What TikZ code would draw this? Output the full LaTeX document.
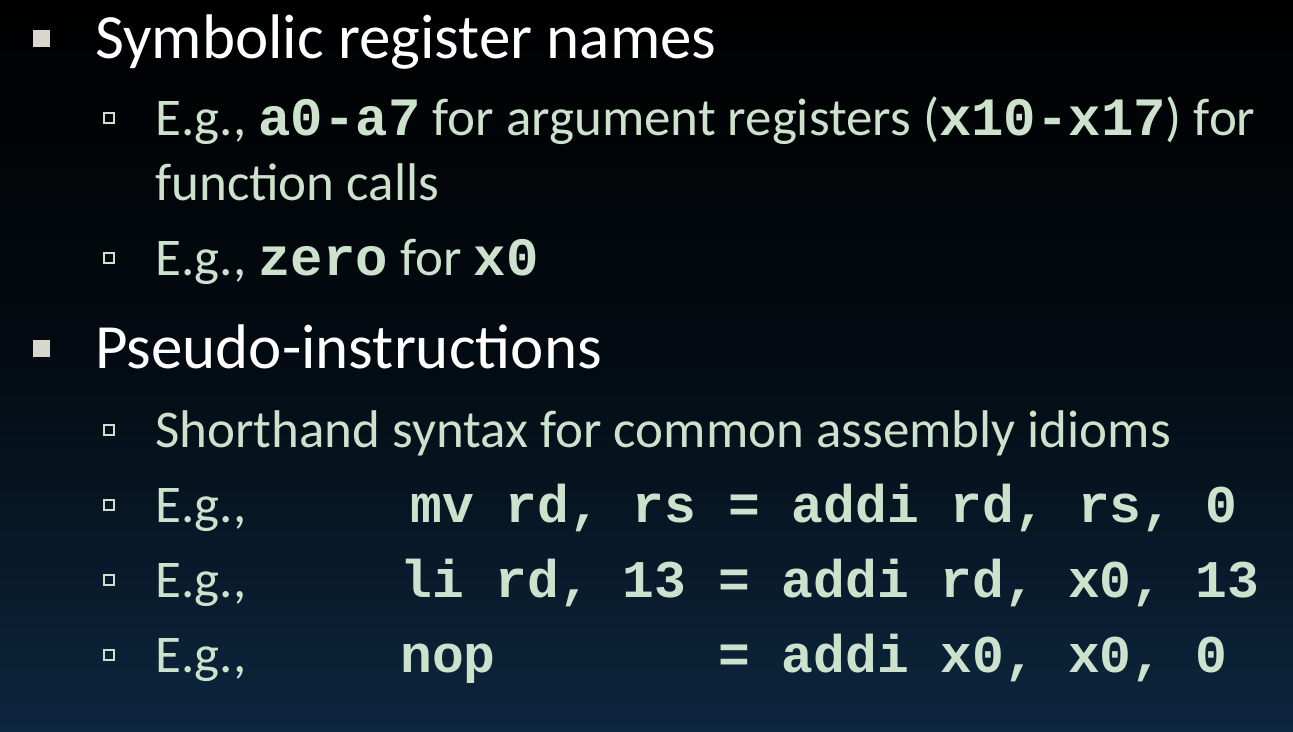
\documentclass[tikz,border=0pt]{standalone}
\usepackage{fontspec}
\setmainfont{Carlito}
\setmonofont{Liberation Mono}
\definecolor{subc}{RGB}{204,226,204}
\definecolor{bgbot}{RGB}{12,38,62}
\definecolor{bul}{RGB}{215,215,205}
\tikzset{
 mainT/.style={anchor=base west,text=white,font=\fontsize{63}{70}\selectfont,inner sep=0},
 subT/.style={anchor=base west,text=subc,font=\fontsize{53}{60}\selectfont,inner sep=0},
 codeT/.style={anchor=base west,text=subc,font=\fontsize{53}{60}\selectfont\ttfamily\bfseries,inner sep=0},
 mb/.style={fill=bul,draw=none},
 sb/.style={draw=subc,line width=1.6pt,fill=none}
}
\newcommand{\cd}[1]{{\fontsize{54}{60}\selectfont\ttfamily\bfseries #1}}
\begin{document}
\begin{tikzpicture}[x=1pt,y=-1pt]
\shade[top color=black,bottom color=bgbot,middle color=black!70!bgbot] (0,0) rectangle (1293,731);
\useasboundingbox (0,0) rectangle (1293,731);
\fill[mb] (33,30) rectangle (50,47);
\node[mainT] (m1) at (95,58) {Symbolic register names};
\draw[sb] (104,113) rectangle (114,123);
\node[subT] (s1) at (155,135) {E.g., \cd{a0-a7} for argument registers (\cd{x10-x17}) for};
\node[subT] (s1b) at (155,200) {function calls};
\draw[sb] (104,253) rectangle (114,263);
\node[subT] (s2) at (155,275) {E.g., \cd{zero} for \cd{x0}};
\fill[mb] (33,340) rectangle (50,357);
\node[mainT] (m2) at (95,368) {Pseudo-instructions};
\draw[sb] (104,425) rectangle (114,435);
\node[subT] (s3) at (155,447) {Shorthand syntax for common assembly idioms};
\draw[sb] (104,500) rectangle (114,510);
\node[subT] (s4) at (155,522) {E.g.,};
\node[codeT] (c4) at (410,522) {mv~rd,~rs~=~addi~rd,~rs,~0};
\draw[sb] (104,575) rectangle (114,585);
\node[subT] (s5) at (155,597) {E.g.,};
\node[codeT] (c5) at (400,597) {li~rd,~13~=~addi~rd,~x0,~13};
\draw[sb] (104,650) rectangle (114,660);
\node[subT] (s6) at (155,672) {E.g.,};
\node[codeT] (c6) at (400,672) {nop~~~~~~~=~addi~x0,~x0,~0};
\end{tikzpicture}
\end{document}
